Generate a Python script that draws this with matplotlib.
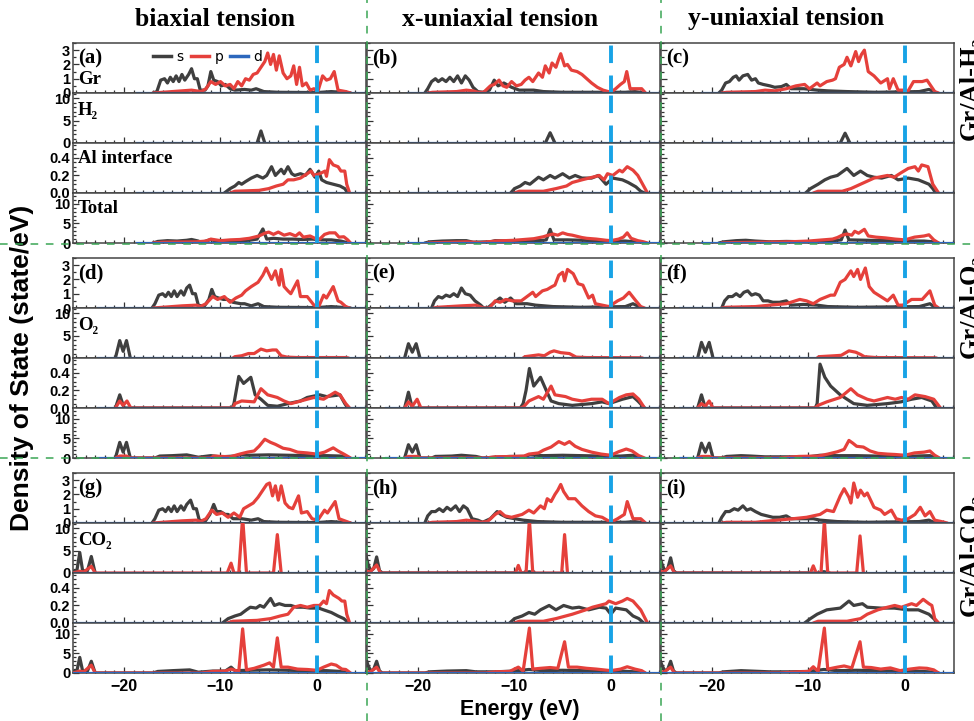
import numpy as np
import matplotlib.pyplot as plt
from matplotlib.ticker import MultipleLocator, FormatStrFormatter
from matplotlib.lines import Line2D

# ---- PDOS data: (energy eV, DOS) knots ----
# block 1: Gr/Al-H2
a_gr_s = [(-17.0,0),(-16.6,0.1),(-16.2,0.9),(-15.8,1.0),(-15.5,0.7),(-15.2,1.1),(-14.9,0.8),(-14.6,1.2),(-14.3,0.8),(-14.0,1.3),(-13.7,0.9),(-13.3,1.3),(-13.0,1.7),(-12.7,1.0),(-12.4,1.0),(-12.1,0.2),(-11.6,0.2),(-11.3,0.5),(-11.0,1.5),(-10.7,0.9),(-10.3,0.8),(-9.9,0.5),(-9.5,0.6),(-9.0,0.3),(-8.5,0.2),(-7.5,0.25),(-6.8,0.2),(-6.3,0.3),(-5.5,0.1),(-4.0,0.05),(0.0,0.03),(1.5,0.1),(2.5,0.05),(3.5,0)]
a_gr_p = [(-17,0),(-16,0.05),(-14,0.15),(-13,0.2),(-12.5,0.15),(-12,0.1),(-11.5,0.3),(-11,0.8),(-10.5,0.6),(-10,0.8),(-9.5,0.5),(-9,0.6),(-8.6,0.3),(-8.2,0.8),(-7.8,0.5),(-7.4,1.0),(-7,0.9),(-6.6,1.3),(-6.2,1.4),(-5.8,1.8),(-5.4,2.2),(-5.1,2.8),(-4.8,2.0),(-4.5,2.7),(-4.2,1.6),(-3.9,2.6),(-3.5,1.4),(-3.1,1.0),(-2.7,1.2),(-2.4,1.9),(-2.1,0.6),(-1.8,1.8),(-1.5,0.5),(-1.1,0.7),(-0.7,0.2),(-0.3,0.3),(0.1,0.1),(0.6,1.2),(1.0,0.9),(1.4,1.0),(1.8,1.5),(2.2,0.2),(3.0,0.1),(3.5,0)]
a_mol_s = [(-6.2,0),(-5.8,2.7),(-5.4,0)]
a_mol_p = []
a_al_s = [(-9.6,0),(-9.0,0.05),(-8.5,0.08),(-8.1,0.12),(-7.8,0.1),(-7.4,0.13),(-6.8,0.17),(-6.2,0.2),(-5.6,0.17),(-5.2,0.2),(-4.7,0.3),(-4.3,0.2),(-3.7,0.27),(-3.4,0.22),(-3.0,0.3),(-2.6,0.22),(-2.3,0.2),(-1.7,0.22),(-1.2,0.2),(-0.7,0.27),(-0.2,0.18),(0.2,0.25),(0.5,0.15),(1.0,0.12),(1.7,0.1),(2.4,0.08),(2.9,0.05),(3.2,0)]
a_al_p = [(-9.0,0),(-8.5,0.02),(-6.0,0.03),(-5.0,0.05),(-4.2,0.08),(-3.5,0.1),(-3.0,0.15),(-2.4,0.15),(-1.7,0.17),(-1.0,0.22),(-0.6,0.25),(-0.3,0.2),(0.3,0.22),(0.85,0.25),(1.0,0.19),(1.3,0.38),(1.7,0.32),(2.2,0.3),(2.5,0.25),(2.9,0.25),(3.1,0.1),(3.4,0)]
a_tot_s = [(-17,0),(-16.5,0.4),(-15.5,0.6),(-14.5,0.5),(-13.5,0.7),(-13,0.9),(-12.3,0.5),(-12,0.1),(-11,0.9),(-10.5,0.5),(-9,0.4),(-8,0.6),(-7,0.7),(-6.2,1.0),(-5.6,3.6),(-5.2,1.0),(-4.5,1.2),(-3.5,1.0),(-2.5,1.0),(-1.5,0.9),(-0.5,1.0),(0.5,0.8),(1.5,0.8),(2.5,0.5),(3.3,0)]
a_tot_p = [(-17,0),(-16,0.2),(-12.5,0.3),(-11.5,0.5),(-11,1.0),(-10,0.6),(-9,0.8),(-8,0.9),(-7,1.2),(-6,1.8),(-5.4,2.5),(-5,2.8),(-4.5,2.2),(-4,2.8),(-3.4,2.0),(-2.8,2.4),(-2.2,1.8),(-1.8,2.6),(-1.4,1.5),(-0.7,1.8),(-0.2,1.2),(0.3,1.0),(0.8,2.2),(1.3,2.6),(1.9,2.6),(2.3,1.5),(2.8,1.6),(3.2,0.8),(3.5,0)]

b_gr_s = [(-19.3,0),(-19.0,0.3),(-18.6,0.8),(-18.2,1.0),(-17.9,0.8),(-17.5,1.0),(-17.1,0.8),(-16.7,1.1),(-16.3,0.8),(-15.9,1.2),(-15.5,0.7),(-15.1,1.2),(-14.7,0.9),(-14.3,0.4),(-13.8,0.1),(-13.3,0.05),(-12.6,0.2),(-12.1,0.9),(-11.7,0.5),(-11.1,0.7),(-10.3,0.4),(-9.5,0.2),(-8.0,0.2),(-7.0,0.1),(-5.0,0.05),(-2.0,0.05),(1.5,0.05),(2.5,0.1),(3.5,0)]
b_gr_p = [(-19,0),(-18.5,0.05),(-16,0.1),(-15,0.2),(-14.3,0.15),(-13.8,0.05),(-13.2,0.05),(-12.5,0.5),(-12.1,0.6),(-11.6,0.9),(-11.2,0.5),(-10.8,0.4),(-10.3,0.8),(-9.8,0.5),(-9.3,0.6),(-8.9,0.9),(-8.5,1.1),(-8.1,0.8),(-7.5,1.4),(-7.1,1.1),(-6.8,1.9),(-6.4,1.4),(-6.1,2.1),(-5.7,1.8),(-5.4,2.4),(-5.2,2.75),(-4.8,1.9),(-4.5,2.0),(-4.1,1.6),(-3.5,1.5),(-3.0,1.3),(-2.5,1.0),(-2.0,0.7),(-1.4,0.4),(-0.8,0.2),(0,0.05),(0.5,0.3),(1.0,0.6),(1.4,0.8),(1.65,1.5),(2.0,0.3),(2.5,0.3),(3.2,0.3),(3.6,0)]
b_mol_s = [(-6.8,0),(-6.3,2.3),(-5.8,0)]
b_mol_p = []
b_al_s = [(-10.4,0),(-10.0,0.05),(-9.4,0.08),(-8.9,0.12),(-8.4,0.1),(-7.5,0.18),(-7.0,0.15),(-6.3,0.2),(-5.8,0.17),(-5.0,0.22),(-4.3,0.17),(-3.7,0.2),(-3.0,0.17),(-2.0,0.17),(-1.3,0.2),(-0.5,0.1),(0.2,0.17),(1.2,0.15),(1.8,0.12),(2.6,0.07),(3.1,0.02),(3.5,0)]
b_al_p = [(-10,0),(-9.5,0.02),(-7,0.02),(-5.7,0.05),(-4.6,0.08),(-4.0,0.12),(-3.0,0.15),(-1.9,0.18),(-1.2,0.2),(-0.7,0.15),(-0.35,0.22),(0.2,0.2),(0.9,0.26),(1.2,0.24),(1.7,0.3),(2.3,0.26),(2.8,0.2),(3.3,0.1),(3.8,0)]
b_tot_s = [(-19.3,0),(-18.8,0.3),(-17.5,0.5),(-16,0.6),(-15,0.6),(-14.3,0.2),(-12.5,0.3),(-12,0.6),(-10.5,0.5),(-9,0.5),(-7,0.7),(-6.7,0.8),(-6.3,3.5),(-5.9,0.8),(-4.5,0.8),(-3,0.7),(-1.5,0.6),(0,0.5),(1.5,0.5),(3,0.2),(3.6,0)]
b_tot_p = [(-19,0),(-18,0.1),(-15,0.3),(-13.5,0.1),(-12,0.5),(-10,0.7),(-9,0.9),(-8,1.1),(-7,1.6),(-6.5,2.0),(-6,2.3),(-5.5,2.0),(-5,2.6),(-4.5,2.2),(-4,2.0),(-3.5,1.7),(-3,1.4),(-2.5,1.2),(-1.5,1.0),(-0.5,0.7),(0,0.6),(0.8,1.0),(1.3,1.5),(1.7,2.6),(2.1,1.2),(2.8,0.6),(3.4,0.3),(3.8,0)]

c_gr_s = [(-19.3,0),(-19.0,0.2),(-18.6,0.7),(-18.2,0.8),(-17.8,1.1),(-17.5,1.2),(-17.2,0.9),(-16.8,1.2),(-16.3,1.3),(-15.9,0.9),(-15.5,1.0),(-15.2,0.7),(-14.7,0.6),(-14.0,0.5),(-13.5,0.4),(-12.8,0.45),(-12.3,0.6),(-11.8,0.3),(-10.5,0.3),(-9.1,0.2),(-8,0.15),(-6,0.1),(-3,0.05),(1.5,0.1),(2.5,0.25),(3.0,0.1),(3.3,0)]
c_gr_p = [(-19,0),(-18.5,0.05),(-15.5,0.1),(-14.5,0.2),(-13.5,0.15),(-12.3,0.3),(-11.3,0.5),(-10.4,0.6),(-9.9,0.3),(-9.1,0.7),(-8.8,0.5),(-8.1,0.8),(-7.5,0.9),(-7.2,1.0),(-6.8,1.8),(-6.3,2.0),(-6.0,2.5),(-5.6,1.9),(-5.1,2.9),(-4.8,2.2),(-4.5,2.7),(-4.2,3.0),(-3.8,1.5),(-3.2,1.2),(-2.5,0.7),(-1.8,1.0),(-1.6,0.3),(-1.2,1.0),(-0.7,0.2),(-0.2,0.2),(0.3,0.1),(0.9,0.8),(1.8,0.8),(2.3,0.9),(2.6,0.6),(3.1,0.1),(3.5,0)]
c_mol_s = [(-6.7,0),(-6.2,2.2),(-5.7,0)]
c_mol_p = []
c_al_s = [(-10.3,0),(-9.8,0.05),(-9.0,0.1),(-8.3,0.15),(-7.7,0.18),(-7.0,0.2),(-6.0,0.28),(-5.3,0.2),(-4.6,0.25),(-3.9,0.2),(-3.2,0.18),(-2.4,0.17),(-1.4,0.2),(-0.7,0.15),(0.35,0.17),(1.4,0.15),(2.5,0.1),(2.9,0.05),(3.2,0)]
c_al_p = [(-9.5,0),(-9,0.02),(-6.5,0.02),(-5.6,0.05),(-4.6,0.1),(-3.2,0.17),(-1.8,0.2),(-1.1,0.18),(-0.4,0.23),(0.35,0.28),(1.05,0.3),(1.4,0.25),(1.75,0.32),(2.4,0.3),(2.9,0.1),(3.5,0)]
c_tot_s = [(-19.3,0),(-18.8,0.3),(-17.5,0.6),(-16.5,0.7),(-15.5,0.5),(-14,0.3),(-12.3,0.4),(-10,0.3),(-8,0.5),(-7,0.7),(-6.6,0.8),(-6.2,3.3),(-5.8,0.8),(-4,0.7),(-2,0.6),(0,0.5),(2,0.5),(3,0.3),(3.5,0)]
c_tot_p = [(-19,0),(-18,0.1),(-15,0.2),(-12,0.3),(-10,0.5),(-8.5,0.8),(-7.5,1.0),(-7,1.4),(-6.5,2.0),(-6,2.3),(-5.5,2.0),(-5.2,3.0),(-4.8,2.5),(-4.2,3.5),(-3.8,1.8),(-3,1.5),(-2,1.3),(-1,1.0),(0,0.8),(1,1.5),(2,1.8),(2.5,2.1),(3.0,0.8),(3.5,0)]

# block 2: Gr/Al-O2
d_gr_s = [(-17.1,0),(-16.8,0.3),(-16.4,0.9),(-16.0,1.0),(-15.7,0.8),(-15.4,1.1),(-15.1,0.8),(-14.8,1.2),(-14.5,0.8),(-14.1,1.2),(-13.8,0.9),(-13.5,1.4),(-13.2,1.6),(-12.9,1.0),(-12.6,1.0),(-12.3,0.2),(-11.7,0.1),(-11.2,0.6),(-10.9,1.3),(-10.6,0.8),(-10.2,0.7),(-9.7,0.6),(-9.3,0.6),(-8.7,0.4),(-7.9,0.3),(-7.5,0.3),(-6.8,0.15),(-6.1,0.3),(-5.5,0.1),(-4.0,0.05),(0,0.03),(1.5,0.1),(2.5,0.05),(3.5,0)]
d_gr_p = [(-17,0),(-16,0.05),(-14,0.15),(-12.5,0.2),(-12.1,0.1),(-11.5,0.3),(-10.8,0.8),(-10.3,0.6),(-9.6,0.8),(-9.0,0.4),(-8.4,0.7),(-7.8,0.9),(-7.4,1.2),(-6.8,1.5),(-6.1,1.8),(-5.6,2.3),(-5.25,2.8),(-4.7,2.0),(-4.3,2.6),(-3.9,1.6),(-3.7,2.7),(-3.4,1.5),(-3.0,1.2),(-2.7,1.0),(-2.0,1.9),(-1.7,0.8),(-1.0,0.8),(-0.3,0.2),(0.2,0.1),(0.7,0.9),(1.0,0.7),(1.7,1.5),(2.2,0.5),(2.5,0.4),(3.0,0.1),(3.4,0)]
d_mol_s = [(-20.9,0),(-20.45,3.9),(-20.1,1.5),(-19.75,3.9),(-19.35,0)]
d_mol_p = [(-8.7,0),(-8.5,0.3),(-7.8,0.5),(-7.1,1.0),(-6.5,1.0),(-5.8,2.0),(-5.2,1.6),(-4.6,1.8),(-4.2,1.8),(-3.7,0.5),(-3.1,0.2),(-2,0.1),(3,0.1),(3.3,0)]
d_al_s = [(-20.9,0),(-20.45,0.15),(-20.0,0),(-8.8,0),(-8.6,0.05),(-8.1,0.36),(-7.6,0.28),(-6.85,0.35),(-6.4,0.15),(-5.8,0.1),(-5.1,0.03),(-4.1,0.02),(-3.0,0.05),(-1.7,0.08),(-1.0,0.12),(0.3,0.15),(1.0,0.13),(2.4,0.15),(2.9,0.05),(3.2,0)]
d_al_p = [(-20.9,0),(-20.45,0.08),(-20.1,0.03),(-19.7,0.08),(-19.3,0),(-8.7,0),(-8.5,0.05),(-7.8,0.08),(-6.5,0.07),(-5.8,0.22),(-5.1,0.15),(-4.1,0.12),(-3.4,0.08),(-2.7,0.05),(-2.0,0.07),(-1.0,0.1),(-0.3,0.12),(0.7,0.1),(1.9,0.18),(2.4,0.15),(3.0,0.05),(3.4,0)]
d_tot_s = [(-20.9,0),(-20.45,4.0),(-20.1,1.5),(-19.75,4.0),(-19.35,0),(-16.8,0),(-16.3,0.5),(-15,0.6),(-13.5,0.8),(-12.3,0.2),(-11,0.6),(-10,0.3),(-8.5,0.5),(-8,0.8),(-7,0.7),(-5,0.8),(-3,0.7),(-1,0.6),(1,0.6),(2.5,0.5),(3.3,0)]
d_tot_p = [(-20.9,0),(-20.45,0.5),(-19.75,0.5),(-19.35,0),(-11,0),(-10.7,0.5),(-9,0.3),(-8,1.0),(-7.2,1.5),(-6.5,1.8),(-6,3.0),(-5.4,4.8),(-4.8,4.0),(-4.3,3.5),(-3.5,2.5),(-2.8,2.2),(-2,1.5),(-1,1.3),(0,1.0),(0.8,1.5),(1.7,2.6),(2.2,1.8),(2.8,1.0),(3.5,0)]

e_gr_s = [(-18.6,0),(-18.3,0.5),(-17.9,0.8),(-17.5,0.7),(-17.1,0.9),(-16.7,0.8),(-16.3,1.0),(-15.9,0.8),(-15.5,1.4),(-15.1,1.0),(-14.6,0.9),(-14.1,0.5),(-13.5,0.2),(-13.2,0),(-12.8,0),(-11.5,0.7),(-11.0,0.4),(-10.4,0.7),(-9.8,0.3),(-8.7,0.3),(-7.8,0.2),(-6,0.1),(-3,0.05),(1.5,0.1),(2.3,0.3),(2.9,0.1),(3.3,0)]
e_gr_p = [(-18.4,0),(-18,0.05),(-15.5,0.15),(-14,0.2),(-13.2,0),(-12.6,0),(-12.0,0.5),(-11.5,0.4),(-10.9,0.6),(-10.2,0.5),(-9.3,0.5),(-8.5,0.9),(-8.1,1.1),(-7.8,0.8),(-7.1,1.2),(-6.6,1.3),(-6.1,1.5),(-5.8,1.6),(-5.4,2.3),(-5.0,2.5),(-4.8,1.9),(-4.5,2.7),(-4.3,2.6),(-3.9,2.4),(-3.4,1.7),(-2.9,1.6),(-2.3,0.7),(-1.9,0.9),(-1.6,0.3),(-0.9,0.2),(-0.2,0.1),(0.7,0.5),(1.3,0.7),(1.9,1.1),(2.6,0.5),(3.1,0.1),(3.5,0)]
e_mol_s = [(-21.4,0),(-21.0,3.2),(-20.6,1.3),(-20.2,3.2),(-19.8,0)]
e_mol_p = [(-9.1,0),(-8.9,0.3),(-7.5,0.7),(-6.9,0.5),(-6.3,1.3),(-5.9,1.6),(-5.2,1.2),(-4.3,1.0),(-3.6,0.2),(-2.5,0.1),(3,0.05),(3.3,0)]
e_al_s = [(-21.4,0),(-21.0,0.18),(-20.6,0),(-9.4,0),(-9.1,0.05),(-8.8,0.2),(-8.45,0.45),(-8.0,0.25),(-7.3,0.35),(-6.7,0.2),(-6.2,0.08),(-5.4,0.05),(-4,0.03),(-2,0.05),(-0.9,0.07),(-0.2,0.05),(1.2,0.1),(2.3,0.13),(2.8,0.08),(3.5,0)]
e_al_p = [(-21.4,0),(-21.0,0.07),(-20.6,0.02),(-20.1,0.1),(-19.7,0),(-9.3,0),(-9.0,0.02),(-8.5,0.08),(-7.5,0.13),(-7.0,0.1),(-6.2,0.25),(-5.8,0.15),(-4.7,0.13),(-4.0,0.1),(-3.0,0.08),(-2.0,0.1),(-0.9,0.1),(-0.2,0.05),(0.9,0.12),(1.6,0.15),(2.3,0.16),(2.9,0.1),(3.5,0)]
e_tot_s = [(-21.4,0),(-21.0,3.4),(-20.6,1.5),(-20.2,3.4),(-19.8,0),(-18.6,0),(-18.2,0.4),(-16.5,0.5),(-15.5,0.7),(-14,0.4),(-13.3,0),(-12,0.2),(-10.5,0.4),(-9,0.4),(-8.4,0.8),(-7,0.6),(-5,0.7),(-3,0.6),(-1,0.5),(1,0.5),(2.3,0.7),(3.3,0)]
e_tot_p = [(-21.4,0),(-21,0.4),(-20.1,0.4),(-19.7,0),(-13,0),(-12,0.3),(-10,0.4),(-9,0.5),(-8.5,1.0),(-7.5,1.3),(-7,2.0),(-6.2,2.8),(-5.4,4.2),(-4.8,3.5),(-4.3,4.2),(-3.7,3.0),(-3.0,2.2),(-2,1.5),(-1,1.0),(0,0.7),(0.8,1.6),(1.6,2.3),(2.2,1.8),(2.9,0.6),(3.5,0)]

f_gr_s = [(-19.0,0),(-18.7,0.5),(-18.3,0.8),(-17.9,0.8),(-17.5,1.0),(-17.1,0.8),(-16.7,1.1),(-16.3,1.2),(-15.9,0.9),(-15.5,1.0),(-15.1,0.9),(-14.7,0.5),(-14.2,0.5),(-13.7,0.4),(-13.0,0.4),(-12.3,0.5),(-11.8,0.2),(-10.5,0.25),(-9.1,0.2),(-8,0.1),(-5,0.05),(1.5,0.1),(2.6,0.3),(3.0,0.1),(3.3,0)]
f_gr_p = [(-19,0),(-18.5,0.05),(-15.5,0.1),(-14,0.2),(-12.3,0.3),(-10.9,0.6),(-10.2,0.5),(-9.5,0.3),(-8.8,0.6),(-7.7,0.9),(-7.3,0.9),(-6.7,1.8),(-6.2,2.0),(-5.6,2.6),(-5.3,2.2),(-4.9,2.7),(-4.6,2.0),(-4.1,2.8),(-3.7,1.5),(-3.2,1.1),(-2.5,0.8),(-1.8,0.5),(-1.2,0.9),(-0.7,0.2),(-0.2,0.2),(0.7,0.6),(1.8,0.6),(2.6,1.2),(3.1,0.2),(3.5,0)]
f_mol_s = [(-21.5,0),(-21.1,3.5),(-20.7,1.3),(-20.3,3.5),(-19.9,0)]
f_mol_p = [(-9.1,0),(-8.9,0.3),(-7.3,0.5),(-6.6,0.6),(-5.8,1.6),(-5.1,1.3),(-4.6,0.8),(-4.2,0.3),(-3,0.1),(3,0.05),(3.3,0)]
f_al_s = [(-21.5,0),(-21.1,0.15),(-20.7,0),(-9.3,0),(-9.1,0.05),(-8.8,0.5),(-8.3,0.35),(-7.7,0.25),(-7.2,0.2),(-6.7,0.15),(-6.0,0.1),(-5.3,0.05),(-3.9,0.03),(-1.8,0.05),(-0.4,0.07),(0.7,0.1),(1.75,0.12),(2.8,0.08),(3.3,0)]
f_al_p = [(-21.5,0),(-21.1,0.05),(-20.7,0.02),(-20.3,0.08),(-19.9,0),(-9.3,0),(-9.0,0.03),(-8.1,0.07),(-6.7,0.12),(-5.6,0.22),(-4.9,0.15),(-3.9,0.1),(-3.2,0.08),(-1.8,0.12),(-1.0,0.1),(-0.35,0.12),(0.35,0.1),(1.05,0.15),(2.1,0.13),(3.0,0.1),(3.7,0)]
f_tot_s = [(-21.5,0),(-21.1,3.8),(-20.7,1.5),(-20.3,3.8),(-19.9,0),(-19,0),(-18.5,0.4),(-17,0.6),(-16,0.5),(-14.5,0.3),(-12,0.3),(-10,0.3),(-8.8,0.7),(-7,0.6),(-5,0.6),(-3,0.5),(-1,0.5),(1,0.5),(2.6,0.6),(3.3,0)]
f_tot_p = [(-21.5,0),(-21.1,0.4),(-20.3,0.4),(-19.9,0),(-13,0),(-11,0.4),(-9,0.5),(-8,1.0),(-7,1.6),(-6.3,2.2),(-5.8,4.5),(-5.4,3.8),(-5.0,3.0),(-4.3,2.8),(-3.6,1.8),(-2.8,1.2),(-1.8,1.0),(-1,0.9),(0,0.7),(1,1.3),(2,1.5),(2.6,1.8),(3.1,0.7),(3.6,0)]

# block 3: Gr/Al-CO2
g_gr_s = [(-17.1,0),(-16.8,0.3),(-16.4,0.9),(-16.0,1.0),(-15.7,0.8),(-15.4,1.1),(-15.1,0.8),(-14.8,1.2),(-14.5,0.8),(-14.1,1.2),(-13.8,0.9),(-13.5,1.3),(-13.1,1.6),(-12.8,1.0),(-12.5,1.0),(-12.2,0.2),(-11.6,0.1),(-11.1,0.6),(-10.7,1.3),(-10.4,0.8),(-10.0,0.8),(-9.5,0.6),(-9.2,0.6),(-8.7,0.3),(-7.8,0.3),(-6.8,0.2),(-6.1,0.3),(-5.5,0.1),(-4,0.05),(0,0.03),(1.5,0.1),(2.5,0.05),(3.5,0)]
g_gr_p = [(-17,0),(-16,0.05),(-14,0.15),(-12.5,0.2),(-12.1,0.1),(-11.5,0.3),(-10.9,0.9),(-10.4,0.6),(-9.8,0.7),(-9.2,0.4),(-8.6,0.7),(-8.0,0.4),(-7.6,1.0),(-7.1,1.2),(-6.6,1.4),(-6.1,1.8),(-5.6,2.3),(-5.2,2.7),(-4.9,2.8),(-4.6,1.9),(-4.3,2.6),(-4.0,1.6),(-3.7,2.6),(-3.3,1.4),(-2.9,1.1),(-2.5,1.0),(-1.9,1.9),(-1.6,0.7),(-1.0,0.8),(-0.5,0.3),(0.1,0.2),(0.8,0.9),(1.1,0.7),(1.9,1.5),(2.3,0.3),(2.7,0.2),(3.1,0.1),(3.5,0)]
g_mol_s = [(-25.3,0.3),(-24.9,0.5),(-24.6,4.6),(-24.3,0.5),(-23.8,0.5),(-23.4,3.7),(-23.0,0)]
g_mol_p = [(-25.3,0),(-24.6,0.4),(-24.2,0.2),(-23.4,1.5),(-23.0,0),(-9.3,0),(-8.9,2.2),(-8.6,0),(-8.1,0),(-7.7,12.5),(-7.3,0),(-4.5,0),(-4.1,8.6),(-3.7,0)]
g_al_s = [(-9.8,0),(-9.2,0.05),(-8.5,0.08),(-7.9,0.1),(-7.3,0.15),(-6.9,0.18),(-6.3,0.17),(-5.9,0.2),(-5.5,0.18),(-4.8,0.28),(-4.4,0.2),(-3.9,0.22),(-3.3,0.2),(-2.7,0.2),(-2.1,0.18),(-1.4,0.18),(-0.7,0.17),(0.2,0.17),(0.7,0.15),(1.5,0.12),(2.2,0.08),(2.8,0.05),(3.3,0)]
g_al_p = [(-9.3,0),(-8.7,0.02),(-6.2,0.03),(-4.8,0.05),(-3.8,0.08),(-3.0,0.1),(-2.4,0.18),(-1.7,0.2),(-1.0,0.18),(-0.3,0.2),(0.3,0.2),(0.7,0.25),(1.0,0.22),(1.3,0.37),(1.7,0.32),(2.3,0.28),(2.6,0.25),(2.9,0.25),(3.1,0.1),(3.4,0)]
g_tot_s = [(-25.3,0.3),(-24.9,0.5),(-24.6,4.0),(-24.3,0.5),(-23.8,0.5),(-23.4,3.0),(-23.0,0),(-17,0),(-16.5,0.4),(-15,0.6),(-13.2,0.8),(-12.3,0.2),(-10.8,0.5),(-9.5,0.5),(-8.9,1.5),(-8.5,0.6),(-7,0.7),(-5,0.8),(-3,0.7),(-1,0.6),(1,0.6),(2.5,0.4),(3.3,0)]
g_tot_p = [(-25.3,0),(-24.6,0.5),(-24.2,0.3),(-23.4,2.0),(-23.0,0),(-12,0),(-10.8,0.4),(-9.5,0.5),(-8.9,1.0),(-8.1,0.4),(-7.7,11.3),(-7.3,0.8),(-6.5,1.2),(-5.5,2.0),(-4.9,2.6),(-4.5,1.5),(-4.1,9.0),(-3.7,1.5),(-3.0,1.5),(-2,1.0),(-1,0.9),(0,0.7),(0.7,1.5),(1.5,2.3),(2.0,2.0),(2.6,1.0),(3.0,0.9),(3.5,0)]

h_gr_s = [(-19.3,0),(-19.0,0.5),(-18.6,0.8),(-18.2,0.8),(-17.8,1.0),(-17.4,0.8),(-17.0,1.1),(-16.6,0.9),(-16.1,1.2),(-15.7,0.8),(-15.3,1.2),(-14.9,1.0),(-14.4,0.3),(-13.8,0.2),(-13.3,0.05),(-12.5,0.3),(-11.8,0.8),(-11.4,0.6),(-10.8,0.4),(-9.1,0.2),(-7.6,0.1),(-5,0.05),(1.5,0.05),(2.5,0.1),(3.5,0)]
h_gr_p = [(-19,0),(-18.5,0.05),(-16,0.1),(-15,0.2),(-14.3,0.15),(-13.5,0.05),(-12.8,0.1),(-12.0,0.6),(-11.5,0.8),(-11.0,0.5),(-10.3,0.4),(-9.2,0.6),(-8.5,0.9),(-8.0,0.7),(-7.3,1.2),(-6.9,1.0),(-6.6,1.7),(-6.2,1.5),(-5.8,2.0),(-5.5,2.3),(-5.2,2.7),(-4.9,2.2),(-4.4,1.7),(-3.7,1.7),(-3.0,1.2),(-2.3,0.8),(-1.6,0.5),(-0.9,0.4),(0,0.05),(0.7,0.3),(1.4,0.6),(1.7,1.5),(2.3,0.3),(3.1,0.3),(3.6,0)]
h_mol_s = [(-25.5,4.8),(-25.2,2.0),(-24.9,0.5),(-24.6,1.0),(-24.3,3.6),(-24.0,0.5),(-23.7,0),(-9.0,0),(-8.45,0.3),(-7.9,0)]
h_mol_p = [(-25.5,0.5),(-25.0,0.2),(-24.3,1.8),(-23.9,0),(-9.9,0),(-9.6,1.7),(-9.3,0),(-8.8,0),(-8.45,12.0),(-8.1,0),(-5.1,0),(-4.8,8.6),(-4.5,0)]
h_al_s = [(-10.5,0),(-10.0,0.05),(-9.2,0.08),(-8.5,0.12),(-7.9,0.1),(-7.3,0.15),(-6.4,0.2),(-5.7,0.15),(-4.9,0.2),(-4.0,0.17),(-3.3,0.18),(-2.3,0.15),(-1.2,0.18),(-0.5,0.17),(0,0.1),(0.5,0.17),(1.6,0.15),(2.3,0.08),(2.9,0.05),(3.4,0)]
h_al_p = [(-10,0),(-9.5,0.02),(-7,0.02),(-5.7,0.05),(-4.0,0.1),(-2.6,0.15),(-1.9,0.18),(-1.2,0.2),(-0.5,0.22),(-0.2,0.25),(0.5,0.22),(1.2,0.25),(1.7,0.28),(2.3,0.25),(3.1,0.15),(3.8,0)]
h_tot_s = [(-25.5,4.5),(-25.2,2.0),(-24.9,0.5),(-24.6,1.0),(-24.3,3.0),(-24.0,0.5),(-23.7,0),(-19.3,0),(-18.8,0.3),(-17,0.5),(-15,0.6),(-14,0.3),(-12,0.3),(-10,0.5),(-8.5,0.9),(-7,0.6),(-5,0.7),(-3,0.6),(-1,0.5),(1,0.5),(2.5,0.3),(3.5,0)]
h_tot_p = [(-25.5,0.5),(-25.0,0.2),(-24.3,1.5),(-23.9,0),(-13,0),(-12,0.3),(-10.5,0.4),(-9.6,1.5),(-9.1,0.5),(-8.45,11.5),(-8.1,1.0),(-7.3,1.2),(-6.3,1.4),(-5.5,1.2),(-4.8,8.0),(-4.4,1.5),(-3.5,1.5),(-2.5,1.2),(-1.5,1.0),(0,0.6),(1.0,1.0),(1.7,1.6),(2.5,1.0),(3.2,0.6),(3.6,0)]

i_gr_s = [(-19.3,0),(-19.0,0.4),(-18.6,0.8),(-18.2,0.8),(-17.7,1.0),(-17.3,0.9),(-16.8,1.2),(-16.4,0.9),(-16.0,1.0),(-15.5,0.8),(-14.9,0.6),(-14.3,0.5),(-13.7,0.4),(-13.0,0.4),(-12.3,0.5),(-11.8,0.3),(-9.5,0.3),(-8.8,0.2),(-7,0.1),(-4,0.05),(1.5,0.1),(2.5,0.2),(3,0.05),(3.3,0)]
i_gr_p = [(-19,0),(-18.5,0.05),(-15.5,0.05),(-14,0.15),(-11.6,0.3),(-10.2,0.4),(-8.8,0.6),(-8.1,0.9),(-7.4,0.8),(-6.7,1.9),(-6.3,2.4),(-5.8,1.8),(-5.6,1.4),(-5.3,2.8),(-4.9,1.8),(-4.6,2.3),(-4.2,1.9),(-3.9,2.1),(-3.2,1.1),(-2.5,0.9),(-2.1,0.6),(-1.4,0.9),(-0.9,0.3),(-0.35,0.2),(0.35,0.3),(1.05,0.6),(1.6,1.1),(2.1,0.5),(2.6,0.8),(3.1,0.2),(3.8,0.1),(4.4,0)]
i_mol_s = [(-25.5,4.3),(-25.2,2.0),(-24.9,0.5),(-24.6,1.0),(-24.3,3.4),(-24.0,0.5),(-23.7,0),(-9.0,0),(-8.4,0.3),(-7.8,0)]
i_mol_p = [(-25.5,0.5),(-25.0,0.2),(-24.3,1.6),(-23.9,0),(-9.8,0),(-9.5,1.6),(-9.2,0),(-8.7,0),(-8.35,11.8),(-8.0,0),(-5.0,0),(-4.65,8.3),(-4.3,0)]
i_al_s = [(-10.4,0),(-9.8,0.05),(-9.1,0.1),(-8.1,0.15),(-6.7,0.17),(-5.8,0.25),(-5.3,0.2),(-4.4,0.22),(-3.9,0.18),(-2.5,0.17),(-1.1,0.17),(0.35,0.15),(1.4,0.15),(2.5,0.1),(3.0,0.05),(3.4,0)]
i_al_p = [(-9.5,0),(-9,0.02),(-6,0.02),(-4.6,0.05),(-3.9,0.1),(-2.8,0.15),(-1.8,0.18),(-1.05,0.2),(-0.35,0.18),(0.7,0.22),(1.2,0.2),(1.9,0.27),(2.5,0.22),(2.8,0.2),(3.1,0.05),(3.5,0)]
i_tot_s = [(-25.5,4.0),(-25.2,2.0),(-24.9,0.5),(-24.6,1.0),(-24.3,3.0),(-24.0,0.5),(-23.7,0),(-19.3,0),(-18.8,0.3),(-17,0.6),(-16,0.5),(-14,0.3),(-12,0.3),(-10,0.4),(-8.4,0.9),(-7,0.6),(-5,0.7),(-3,0.6),(-1,0.5),(1,0.5),(2.5,0.3),(3.5,0)]
i_tot_p = [(-25.5,0.5),(-25.0,0.2),(-24.3,1.5),(-23.9,0),(-13,0),(-11,0.3),(-10,0.4),(-9.5,1.6),(-9.0,0.4),(-8.35,11.5),(-8.0,1.0),(-7,1.5),(-6.3,1.8),(-5.5,1.3),(-4.65,8.0),(-4.3,1.5),(-3.5,1.4),(-2.5,1.0),(-1.5,1.3),(-0.5,0.6),(0.5,1.0),(1.5,1.3),(2.3,1.2),(3.0,0.8),(3.5,0)]

# d states stay at zero; where the blue line starts (per block, per column)
d_start_h2 = [-18.7, -21.0, -21.0]
d_start_o2 = [-22.7, -23.3, -23.3]
d_start_co2 = [-25.5, -25.5, -25.5]
d_end = 5.2

col_titles = ["biaxial tension", "x-uniaxial tension", "y-uniaxial tension"]
block_names = ["Gr/Al-H\u2082", "Gr/Al-O\u2082", "Gr/Al-CO\u2082"]
mol_names = ["H\u2082", "O\u2082", "CO\u2082"]
row_names = ["Gr", None, "Al interface", "Total"]
panel_letters = [["a", "b", "c"], ["d", "e", "f"], ["g", "h", "i"]]

s_table = {
    "a": [a_gr_s, a_mol_s, a_al_s, a_tot_s], "b": [b_gr_s, b_mol_s, b_al_s, b_tot_s], "c": [c_gr_s, c_mol_s, c_al_s, c_tot_s],
    "d": [d_gr_s, d_mol_s, d_al_s, d_tot_s], "e": [e_gr_s, e_mol_s, e_al_s, e_tot_s], "f": [f_gr_s, f_mol_s, f_al_s, f_tot_s],
    "g": [g_gr_s, g_mol_s, g_al_s, g_tot_s], "h": [h_gr_s, h_mol_s, h_al_s, h_tot_s], "i": [i_gr_s, i_mol_s, i_al_s, i_tot_s],
}
p_table = {
    "a": [a_gr_p, a_mol_p, a_al_p, a_tot_p], "b": [b_gr_p, b_mol_p, b_al_p, b_tot_p], "c": [c_gr_p, c_mol_p, c_al_p, c_tot_p],
    "d": [d_gr_p, d_mol_p, d_al_p, d_tot_p], "e": [e_gr_p, e_mol_p, e_al_p, e_tot_p], "f": [f_gr_p, f_mol_p, f_al_p, f_tot_p],
    "g": [g_gr_p, g_mol_p, g_al_p, g_tot_p], "h": [h_gr_p, h_mol_p, h_al_p, h_tot_p], "i": [i_gr_p, i_mol_p, i_al_p, i_tot_p],
}
d_starts = [d_start_h2, d_start_o2, d_start_co2]

# ---- styling ----
C_S = "#3f3f3f"
C_P = "#e5403b"
C_D = "#2c67bd"
C_EF = "#18a3e6"
C_GREEN = "#3aa655"
SERIF = ["Liberation Serif", "DejaVu Serif"]
SANS = ["Liberation Sans", "DejaVu Sans"]

row_ylim = [3.5, 11.2, 0.57, 12.8]
row_major = [1, 5, 0.2, 5]
row_minor = [0.5, 1, 0.05, 1]
row_fmt = ["%d", "%d", "%.1f", "%d"]

W, H = 974, 721
fig = plt.figure(figsize=(W / 100, H / 100), dpi=100)

col_left = [73, 367, 661]
col_w = 293
block_top = [43, 258, 473]
row_h = 50


def px_axes(x, y, w, h):
    return fig.add_axes([x / W, 1 - (y + h) / H, w / W, h / H])


def draw(ax, pts, color, lw=2.3, z=3):
    if len(pts) == 0:
        return
    arr = np.array(pts).T
    ax.plot(arr[0], arr[1], color=color, lw=lw, zorder=z, solid_joinstyle="round", solid_capstyle="round")


for b in range(3):
    for c in range(3):
        letter = panel_letters[b][c]
        for r in range(4):
            ax = px_axes(col_left[c], block_top[b] + r * row_h, col_w, row_h)
            draw(ax, s_table[letter][r], C_S)
            draw(ax, p_table[letter][r], C_P)
            ax.plot([d_starts[b][c], d_end], [0, 0], color=C_D, lw=2.3, zorder=4)
            ax.axvline(0, color=C_EF, lw=2.8, ls=(0, (4.5, 3.2)), zorder=5)
            ax.set_xlim(-25.3, 5.1)
            ax.set_ylim(0, row_ylim[r])
            ax.xaxis.set_major_locator(MultipleLocator(10))
            ax.xaxis.set_minor_locator(MultipleLocator(1))
            ax.yaxis.set_major_locator(MultipleLocator(row_major[r]))
            ax.yaxis.set_minor_locator(MultipleLocator(row_minor[r]))
            ax.yaxis.set_major_formatter(FormatStrFormatter(row_fmt[r]))
            ax.tick_params(which="both", direction="in", top=False, right=False, width=0.9, colors="#333333")
            ax.tick_params(which="major", length=4)
            ax.tick_params(which="minor", length=2.2)
            ax.tick_params(labelsize=10.5, labelcolor="black", pad=2)
            for sp in ax.spines.values():
                sp.set_color("#444444")
                sp.set_linewidth(1.1)
            if c != 0:
                ax.set_yticklabels([])
            else:
                for t in ax.get_yticklabels():
                    t.set_fontweight("bold")
                    t.set_family(SANS)
            if not (b == 2 and r == 3):
                ax.set_xticklabels([])
            else:
                ax.tick_params(axis="x", labelsize=11.5, pad=4)
                for t in ax.get_xticklabels():
                    t.set_fontweight("bold")
                    t.set_family(SANS)
            if r == 0:
                ax.text(0.017, 0.9, "(" + letter + ")", transform=ax.transAxes, ha="left", va="top",
                        fontsize=15, fontweight="bold", family=SERIF, zorder=6)
            if c == 0:
                if r == 1:
                    ax.text(0.017, 0.82, mol_names[b], transform=ax.transAxes, ha="left", va="top",
                            fontsize=13.5, fontweight="bold", family=SERIF, zorder=6)
                elif b == 0 and r == 0:
                    ax.text(0.017, 0.26, row_names[r], transform=ax.transAxes, ha="left", va="center",
                            fontsize=13.5, fontweight="bold", family=SERIF, zorder=6)
                elif b == 0:
                    ax.text(0.017, 0.86, row_names[r], transform=ax.transAxes, ha="left", va="top",
                            fontsize=13.5, fontweight="bold", family=SERIF, zorder=6)
            if b == 0 and c == 0 and r == 0:
                handles = [Line2D([], [], color=C_S, lw=2.5), Line2D([], [], color=C_P, lw=2.5), Line2D([], [], color=C_D, lw=2.5)]
                ax.legend(handles, ["s", "p", "d"], ncol=3, frameon=False, loc="upper center",
                          bbox_to_anchor=(0.46, 1.06), handlelength=1.3, handletextpad=0.4,
                          columnspacing=0.5, fontsize=10, borderpad=0.2)

# column titles
for x, t in zip([215, 500, 786], col_titles):
    fig.text(x / W, 1 - 19 / H, t, ha="center", va="center", fontsize=18.5, fontweight="bold", family=SERIF)

# block names on the right edge (partly cut off by the figure edge, as in the source)
for y, t in zip([88, 306, 555], block_names):
    fig.text(959 / W, 1 - y / H, t, rotation=90, ha="left", va="center", fontsize=19, fontweight="bold", family=SERIF)

fig.text(22 / W, 1 - 368 / H, "Density of State (state/eV)", rotation=90, ha="center", va="center",
         fontsize=19, fontweight="bold", family=SANS)
fig.text(520 / W, 1 - 710 / H, "Energy (eV)", ha="center", va="center", fontsize=15.5, fontweight="bold", family=SANS)

# green dashed separators
for x in [366.5, 660.5]:
    fig.add_artist(Line2D([x / W, x / W], [0, 1], transform=fig.transFigure, color=C_GREEN, lw=1.1, ls=(0, (5, 5)), zorder=10))
for y in [243.5, 458]:
    fig.add_artist(Line2D([0, 1], [1 - y / H, 1 - y / H], transform=fig.transFigure, color=C_GREEN, lw=1.1, ls=(0, (5, 5)), zorder=10))

fig.savefig("out.png", dpi=100)
